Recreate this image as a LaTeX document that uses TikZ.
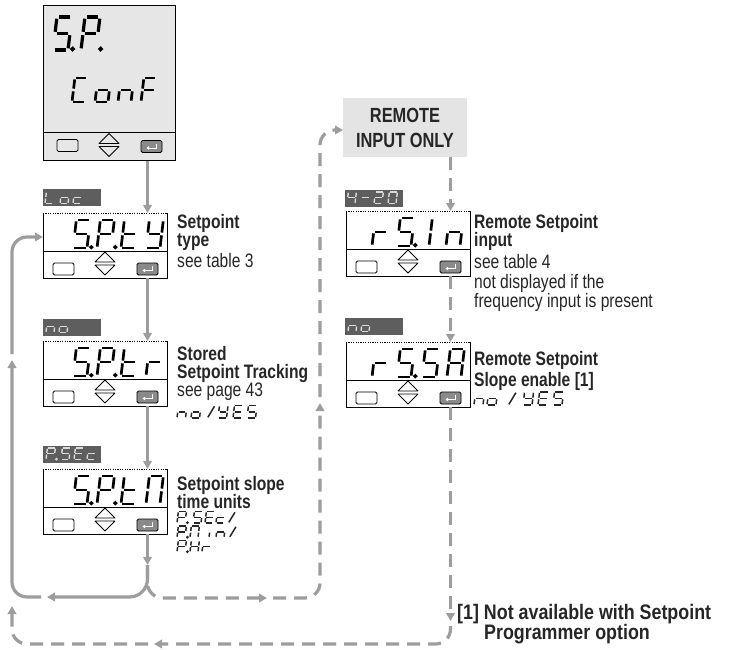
\documentclass[tikz,border=0pt]{standalone}
\usepackage{fontspec}
\setmainfont{Liberation Sans}
\newfontfamily\txtfont[FakeStretch=0.8]{Liberation Sans}
\newfontfamily\fnfont[FakeStretch=0.85]{Liberation Sans}
\usetikzlibrary{arrows.meta,calc}
\definecolor{conncol}{HTML}{9D9D9D}
\definecolor{lblgray}{HTML}{5E5E5E}
\definecolor{lbltxt}{HTML}{DADADA}
\definecolor{panelgray}{HTML}{E6E6E6}
\definecolor{remgray}{HTML}{E4E4E4}
\definecolor{entergray}{HTML}{8A8A8A}
\definecolor{ink}{HTML}{262626}
% seven-segment machinery
\newcommand\defgl[2]{\expandafter\def\csname gl@#1\endcsname{#2}}
\newcommand\defseg[3]{\expandafter\def\csname sgp@#1\endcsname{#2}\expandafter\def\csname sgo@#1\endcsname{#3}}
\def\lcdgap{1pt}
\defseg{a}{(0,2)--(1,2)}{shorten <=\lcdgap,shorten >=\lcdgap}
\defseg{b}{(1,2)--(1,1)}{shorten <=\lcdgap,shorten >=\lcdgap}
\defseg{c}{(1,1)--(1,0)}{shorten <=\lcdgap,shorten >=\lcdgap}
\defseg{d}{(1,0)--(0,0)}{shorten <=\lcdgap,shorten >=\lcdgap}
\defseg{e}{(0,0)--(0,1)}{shorten <=\lcdgap,shorten >=\lcdgap}
\defseg{f}{(0,1)--(0,2)}{shorten <=\lcdgap,shorten >=\lcdgap}
\defseg{g}{(0,1)--(1,1)}{shorten <=\lcdgap,shorten >=\lcdgap}
\defseg{s}{(0.05,0)--(0.75,2)}{shorten <=\lcdgap,shorten >=\lcdgap}
\defseg{p}{(1.3,0.06) circle[radius=0.55pt]}{fill}
\defgl{S}{a,f,g,c,d}\defgl{S.}{a,f,g,c,d,p}
\defgl{P}{a,b,f,g,e}\defgl{P.}{a,b,f,g,e,p}
\defgl{t}{f,g,e,d}\defgl{Y}{f,b,g,c,d}\defgl{r}{e,g}
\defgl{M}{a,b,c,e,f}\defgl{I}{e,f}\defgl{n}{e,g,c}
\defgl{A}{a,b,c,e,f,g}\defgl{C}{a,f,e,d}\defgl{o}{g,c,d,e}
\defgl{F}{a,f,g,e}\defgl{L}{f,e,d}\defgl{c}{g,e,d}
\defgl{E}{a,f,g,e,d}\defgl{H}{f,e,b,c,g}\defgl{4}{f,g,b,c}
\defgl{2}{a,b,g,e,d}\defgl{0}{a,b,c,d,e,f}\defgl{-}{g}
\defgl{sl}{s}\defgl{i}{e}
\newcommand\lcd[6][]{%
  \edef\lcdlist{\csname gl@#6\endcsname}%
  \begin{scope}[shift={(#2,#3)}, x={(#4pt,0pt)}, y={(0pt,#5pt)}, xslant=0.12, line cap=butt, #1]
    \foreach \s in \lcdlist {\edef\lcdtmp{\noexpand\draw[\csname sgo@\s\endcsname] \csname sgp@\s\endcsname;}\lcdtmp}
  \end{scope}}
\newcommand\lcdw[5][]{\foreach \xx/\g in {#5}{\lcd[#1]{\xx}{#2}{#3}{#4}{\g}}}
\tikzset{lcdgap/.code={\def\lcdgap{#1}}}
% panel
\newcommand\entersym[1]{\draw[entsym] ($(#1.center)+(4.5,-3)$) -- ($(#1.center)+(4.5,1.5)$) -- ($(#1.center)+(-5,1.5)$);}
\newcommand\panel[3]{%
  \node[panelbox] (#1) at (#2,#3) {};
  \draw[pedge] (#1.north east) -- (#1.south east) -- (#1.south west) -- (#1.north west);
  \draw[pedge, dash pattern=on 1.2pt off 1.2pt] (#1.north west) -- (#1.north east);
  \draw[pedge] ($(#1.north west)+(0,38)$) -- ($(#1.north east)+(0,38)$);
  \node[btn] (#1-l) at ($(#1.north west)+(20.5,56)$) {};
  \pic at ($(#1.north west)+(62,50.5)$) {updown};
  \node[btn, fill=entergray] (#1-e) at ($(#1.north west)+(104.5,56)$) {};
  \entersym{#1-e}}
\begin{document}
\begin{tikzpicture}[x=1pt,y=-1pt,
  conn/.style={draw=conncol, line width=3.2pt},
  dconn/.style={conn, dash pattern=on 13pt off 8pt},
  arr/.style={-{Triangle[length=8pt,width=8.5pt]}},
  rc/.style={rounded corners=15pt},
  panelbox/.style={minimum width=124pt, minimum height=65pt, anchor=north west, inner sep=0pt, fill=white},
  pedge/.style={draw=black, line width=0.9pt},
  btn/.style={draw=black, line width=0.8pt, rounded corners=1.5pt, minimum width=21pt, minimum height=12pt, inner sep=0pt},
  entsym/.style={draw=white, line width=1pt, -{Triangle[length=2.5pt,width=3.5pt]}},
  lblbox/.style={fill=lblgray, minimum width=58pt, minimum height=17pt, anchor=north west, inner sep=0pt},
  updown/.pic={\draw[line width=0.8pt, line join=round] (-10,-1.5) -- (0,-11.5) -- (10,-1.5) -- cycle (-10,1.5) -- (0,11.5) -- (10,1.5) -- cycle;},
  lcdtop/.style={color=black, line width=3.2pt, lcdgap=1.7pt},
  lcdmid/.style={color=black, line width=2.7pt, lcdgap=1.4pt},
  lcdbig/.style={color=black, line width=2.7pt, lcdgap=1.4pt},
  lcdlbl/.style={color=lbltxt, line width=1.4pt, lcdgap=0.8pt},
  lcdtxt/.style={color=ink, line width=1.5pt, lcdgap=0.8pt},
  txr/.style={font=\txtfont\fontsize{19.5}{20}\selectfont, text=ink, anchor=base west, inner sep=0pt},
  txb/.style={font=\txtfont\bfseries\fontsize{19.5}{20}\selectfont, text=ink, anchor=base west, inner sep=0pt},
  fnb/.style={font=\fnfont\bfseries\fontsize{21}{22}\selectfont, text=ink, anchor=base west, inner sep=0pt},
  rembox/.style={fill=remgray, minimum width=124pt, minimum height=59pt, inner sep=0pt, align=center, text=ink, font=\txtfont\bfseries\fontsize{20.5}{25}\selectfont}
]
\useasboundingbox (0,0) rectangle (732,649);
\fill[white] (0,0) rectangle (732,649);

% ---- top panel
\node[draw=black, line width=0.9pt, fill=panelgray, minimum width=132pt, minimum height=155pt, anchor=north west, inner sep=0pt] (b1) at (43,5) {};
\draw[pedge] ($(b1.north west)+(0,127)$) -- ($(b1.north east)+(0,127)$);
\node[btn] (b1-l) at (67.5,145.5) {};
\pic at (109,145) {updown};
\node[btn, fill=entergray] (b1-e) at (151.5,146.5) {};
\entersym{b1-e}
\lcdw[lcdtop]{50}{15}{16.5}{53/S., 81/P.}
\lcdw[lcdmid]{102}{13}{12}{72/C, 95/o, 118/n, 141/F}

% ---- left column panels
\panel{b2}{43}{213}
\panel{b3}{43}{341}
\panel{b4}{43}{469}
\lcdw[lcdbig]{248}{14}{14}{73/S., 97/P., 121/t, 146/Y}
\lcdw[lcdbig]{376}{14}{14}{73/S., 97/P., 121/t, 146/r}
\lcdw[lcdbig]{504}{14}{14}{73/S., 97/P., 121/t, 146/M}

% ---- right column panels
\node[rembox] (rem) at (405,127.5) {REMOTE\\INPUT ONLY};
\panel{b5}{346}{211}
\panel{b6}{346}{342}
\lcdw[lcdbig]{246}{14}{14}{372/r, 397/S., 429/I, 446/n}
\lcdw[lcdbig]{377}{14}{14}{372/r, 397/S., 422/S, 447/A}

% ---- value labels
\node[lblbox] (l2) at (43,189) {};
\node[lblbox] (l3) at (43,319) {};
\node[lblbox] (l4) at (43,446) {};
\node[lblbox] (l5) at (345,190) {};
\node[lblbox] (l6) at (345,318) {};
\lcdw[lcdlbl]{203.5}{8}{5.8}{45/L, 60/o, 73/c}
\lcdw[lcdlbl]{332.5}{8}{5.8}{46/n, 59/o}
\lcdw[lcdlbl]{459.5}{8}{5.8}{46/P., 61/S, 74/E, 87/c}
\lcdw[lcdlbl]{203.5}{8}{5.8}{347/4, 361/-, 374/2, 388/0}
\lcdw[lcdlbl]{331.5}{8}{5.8}{348/n, 361/o}

% ---- texts
\node[txb] (t2a) at (177,228) {Setpoint};
\node[txb] (t2b) at (177,246) {type};
\node[txr] (t2c) at (177,267) {see table 3};
\node[txb] (t3a) at (177,360) {Stored};
\node[txb] (t3b) at (177,378) {Setpoint Tracking};
\node[txr] (t3c) at (177,396) {see page 43};
\lcdw[lcdtxt]{418}{8.5}{6.2}{177/n, 191/o, 207/sl, 218/Y, 233/E, 247/S}
\node[txb] (t4a) at (177,490) {Setpoint slope};
\node[txb] (t4b) at (177,508) {time units};
\lcdw[lcdtxt]{523}{8}{5.7}{177/P., 193/S, 205/E, 216/c, 228/sl}
\lcdw[lcdtxt]{537.5}{8}{5.7}{177/P., 190/M, 209/i, 216/n, 229/sl}
\lcdw[lcdtxt]{552}{8}{5.7}{177/P., 190/H, 202/r}
\node[txb] (t5a) at (474,228) {Remote Setpoint};
\node[txb] (t5b) at (474,246) {input};
\node[txr] (t5c) at (474,268) {see table 4};
\node[txr] (t5d) at (474,288) {not displayed if the};
\node[txr] (t5e) at (474,307) {frequency input is present};
\node[txb] (t6a) at (474,365) {Remote Setpoint};
\node[txb] (t6b) at (474,386) {Slope enable [1]};
\lcdw[lcdtxt]{405}{9}{6.5}{474/n, 487/o, 508/sl, 523/Y, 538/E, 553/S}
\node[fnb] (fn1) at (457,619) {[1] Not available with Setpoint};
\node[fnb] (fn2) at (484,639) {Programmer option};

% ---- connector coordinates
\coordinate (m1) at (147.5,565);
\coordinate (a1) at (47,597);   \coordinate (a1n) at (41,597);
\coordinate (a2) at (12,360);   \coordinate (a2n) at (12,354);
\coordinate (b2in) at ($(b2.north west)+(0,24)$);
\coordinate (a3) at (267,598);  \coordinate (a3n) at (273,598);
\coordinate (a4) at (320,403);  \coordinate (a4n) at (320,397);
\coordinate (remin) at (343,130);
\coordinate (a5) at (450.5,621); \coordinate (a5n) at (450.5,626);
\coordinate (a6) at (154,644);  \coordinate (a6n) at (148,644);
\coordinate (a7) at (12,606);

% ---- dashed connectors
\draw[dconn, rc, arr] (m1) -- (147.5,598) -- (a3);
\draw[dconn, rc, arr] (a3n) -- (320,598) -- (a4);
\draw[dconn, rc, arr] (a4n) -- (320,130) -- (remin);
\draw[dconn, arr] (rem.south -| b5-e) -- (b5.north -| b5-e);
\draw[dconn, arr] (b5.south -| b5-e) -- (b6.north -| b6-e);
\draw[dconn, arr] (b6.south -| b6-e) -- (a5);
\draw[dconn, rc, arr] (a5n) -- (450.5,644) -- (a6);
\draw[dconn, rc, arr] (a6n) -- (12,644) -- (a7);

% ---- solid connectors
\draw[conn, arr] (b1.south -| b2-e) -- (b2.north -| b2-e);
\draw[conn, arr] (b2.south -| b2-e) -- (b3.north -| b3-e);
\draw[conn, arr] (b3.south -| b3-e) -- (b4.north -| b4-e);
\draw[conn, arr] (b4.south -| b4-e) -- (m1);
\draw[conn, rounded corners=18pt, arr] (m1) -- (147.5,597) -- (a1);
\draw[conn, rc, arr] (a1n) -- (12,597) -- (a2);
\draw[conn, rc, arr] (a2n) -- (12,237) -- (b2in);
\end{tikzpicture}
\end{document}
